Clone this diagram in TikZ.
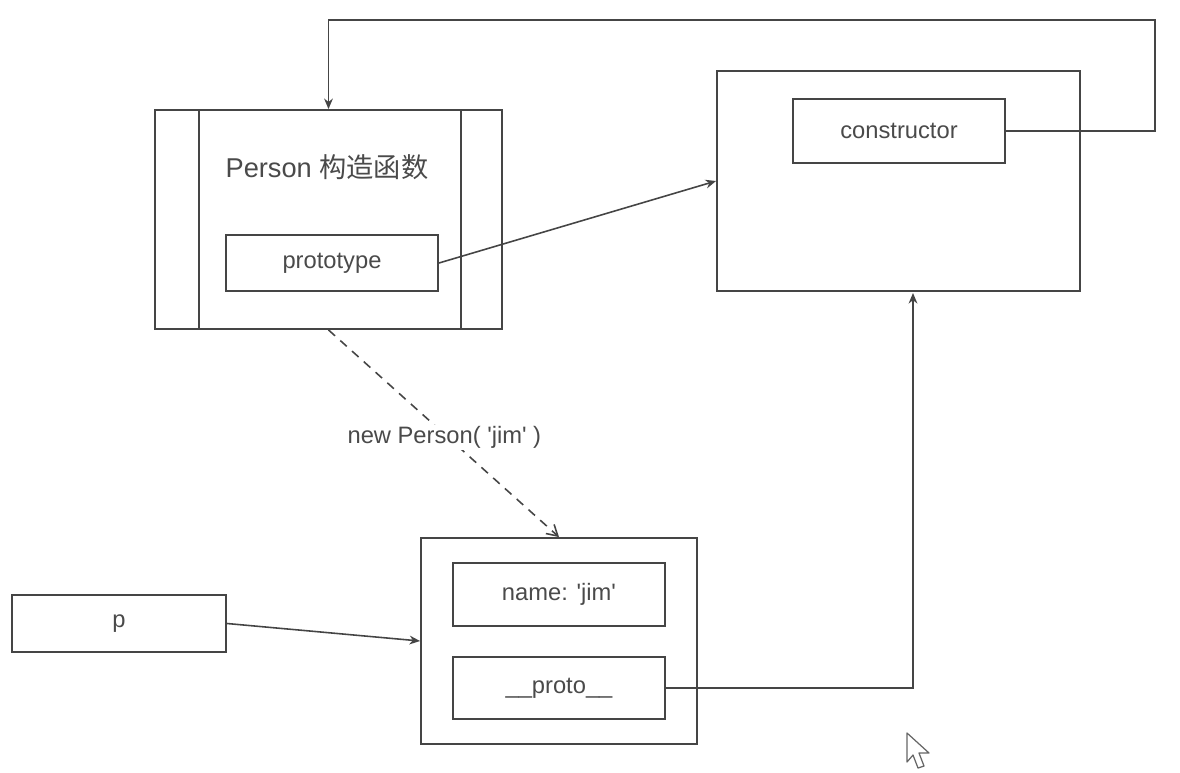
\documentclass[tikz,border=0pt]{standalone}
\usepackage{fontspec}
\setmainfont{Liberation Sans}
\newfontfamily\cjk{Noto Sans CJK SC}
\usetikzlibrary{arrows.meta}
\definecolor{ln}{HTML}{454545}
\definecolor{tx}{HTML}{4A4A4A}
\newcommand{\sq}{\textquotesingle}
\begin{document}
\begin{tikzpicture}[x=0.02cm,y=-0.02cm,
  box/.style={draw=ln,line width=1.1pt,rectangle,inner sep=0pt,text=tx,font=\fontsize{13.5}{16}\selectfont},
  conn/.style={draw=ln,line width=0.9pt,-{Stealth[length=6pt,width=5pt]}},
  dconn/.style={draw=ln,line width=0.9pt,dash pattern=on 5pt off 4pt,-{Straight Barb[length=6pt,width=7pt]}},
  lbl/.style={text=tx,font=\fontsize{13.5}{16}\selectfont,inner sep=1pt}]
\useasboundingbox (0,0) rectangle (1180,772);
% Person constructor
\node[box,minimum width=6.94cm,minimum height=4.38cm] (person) at (328.5,219.5) {};
\draw[ln,line width=1.1pt] (199,110) -- (199,329);
\draw[ln,line width=1.1pt] (461,110) -- (461,329);
\node[lbl,font=\fontsize{15.5}{18}\selectfont] (ptitle) at (327,167) {Person {\cjk 构造函数}};
\node[box,minimum width=4.24cm,minimum height=1.12cm] (prototype) at (332,263) {prototype};
% prototype object
\node[box,minimum width=7.26cm,minimum height=4.4cm] (obj) at (898.5,181) {};
\node[box,minimum width=4.24cm,minimum height=1.28cm] (constructor) at (899,131) {constructor};
% instance
\node[box,minimum width=5.52cm,minimum height=4.12cm] (inst) at (559,641) {};
\node[box,minimum width=4.24cm,minimum height=1.26cm] (name) at (559,594.5) {name: \sq jim\sq};
\node[box,minimum width=4.24cm,minimum height=1.24cm] (proto) at (559,688) {\_\_proto\_\_};
\node[box,minimum width=4.28cm,minimum height=1.14cm] (p) at (119,623.5) {p};
% connectors
\coordinate (c1) at (1155,20);
\coordinate (c2) at (913,293);
\draw[conn] (constructor.east) -| (c1) -| (person.north);
\draw[conn] (prototype.east) -- (obj.west);
\draw[dconn] (person.south) -- node[lbl,fill=white,pos=0.52,xshift=-0.08cm] (newlbl) {new Person( \sq jim\sq\ )} (inst.north);
\draw[conn] (p.east) -- (inst.west);
\draw[conn] (proto.east) -| (c2);
% mouse cursor
\draw[draw=gray!80!black,fill=white,line width=0.7pt,line join=round]
  (907,733) -- (907,762) -- (913,755) -- (918,768) -- (924,766) -- (919,753) -- (929,753) -- cycle;
\end{tikzpicture}
\end{document}
